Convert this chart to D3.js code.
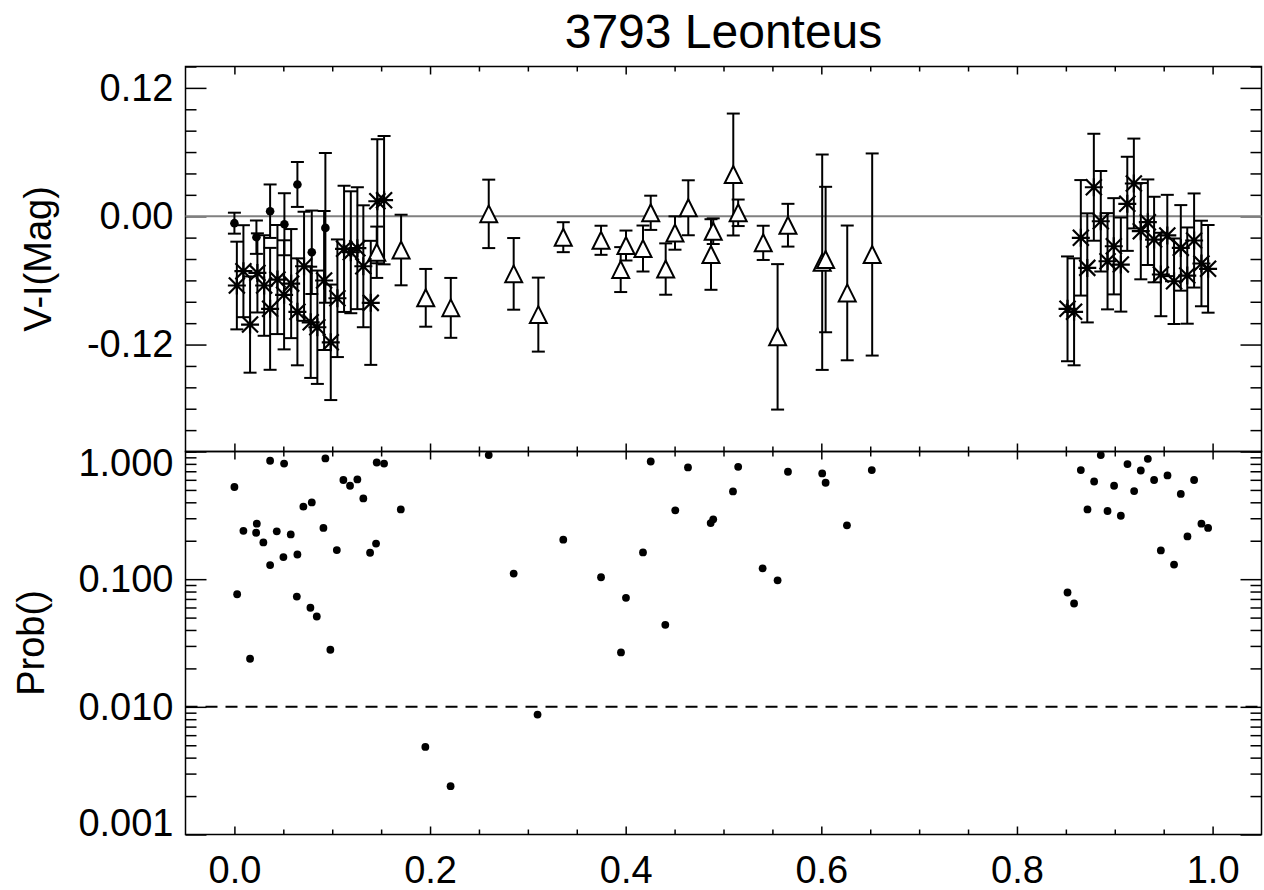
<!DOCTYPE html>
<html>
<head>
<meta charset="utf-8">
<script src="https://cdn.jsdelivr.net/npm/d3@7"></script>
<style>
  body { margin: 0; background: #fff; }
  svg { display: block; font-family: "Liberation Sans", Arial, sans-serif; }
</style>
</head>
<body>
<svg id="chart" width="1264" height="890"></svg>
<script>
// [phase, V-I, error]
const filledPts = [
  [0.000, -0.0065, 0.0098], [0.0225, -0.0196, 0.0156], [0.0365, 0.0047, 0.025],
  [0.0511, -0.0075, 0.029], [0.0644, 0.0297, 0.021], [0.0791, -0.0337, 0.039],
  [0.093, -0.0109, 0.070]
];

const starPts = [
  [0.0025, -0.0648, 0.041], [0.0092, -0.0514, 0.043], [0.016, -0.1013, 0.045],
  [0.0235, -0.053, 0.037], [0.0304, -0.0648, 0.047], [0.0365, -0.0866, 0.057],
  [0.044, -0.0592, 0.051], [0.0508, -0.0735, 0.051], [0.058, -0.063, 0.051],
  [0.0644, -0.0894, 0.050], [0.0712, -0.0468, 0.051], [0.078, -0.0992, 0.052],
  [0.0848, -0.1038, 0.053], [0.0917, -0.0601, 0.065], [0.0985, -0.1179, 0.054],
  [0.1053, -0.0767, 0.055], [0.1121, -0.0305, 0.059], [0.119, -0.0337, 0.057],
  [0.1257, -0.0299, 0.057], [0.1318, -0.0468, 0.057], [0.1394, -0.081, 0.058],
  [0.1461, 0.014, 0.058], [0.153, 0.015, 0.060],
  [0.8517, -0.0866, 0.049], [0.8584, -0.0894, 0.050], [0.8653, -0.0202, 0.054],
  [0.8719, -0.0483, 0.051], [0.8786, 0.0271, 0.050], [0.8857, -0.0047, 0.047],
  [0.8926, -0.0421, 0.045], [0.899, -0.0281, 0.045], [0.9062, -0.0452, 0.044],
  [0.9128, 0.0116, 0.044], [0.9195, 0.0306, 0.042], [0.9266, -0.014, 0.045],
  [0.9338, -0.0056, 0.040], [0.9402, -0.0218, 0.040], [0.9471, -0.0545, 0.039],
  [0.9537, -0.018, 0.038], [0.9606, -0.0608, 0.040], [0.9675, -0.0296, 0.040],
  [0.9741, -0.0555, 0.045], [0.9811, -0.0227, 0.044], [0.9886, -0.0442, 0.040],
  [0.9954, -0.0492, 0.041]
];

const trianglePts = [
  [0.1455, -0.0337, 0.024], [0.1704, -0.0316, 0.033], [0.1956, -0.0763, 0.027],
  [0.2212, -0.0857, 0.028], [0.26, 0.0022, 0.032], [0.2855, -0.0539, 0.0335],
  [0.3107, -0.092, 0.0346], [0.3362, -0.0196, 0.014], [0.3748, -0.0225, 0.0136],
  [0.3949, -0.0499, 0.021], [0.4003, -0.0274, 0.014], [0.4177, -0.0302, 0.0215],
  [0.4256, 0.0032, 0.016], [0.4409, -0.0494, 0.024], [0.4504, -0.0157, 0.0156],
  [0.464, 0.0079, 0.0257], [0.4872, -0.0358, 0.033], [0.4895, -0.014, 0.012],
  [0.51, 0.039, 0.057], [0.515, 0.0032, 0.0124], [0.5406, -0.0249, 0.016],
  [0.5553, -0.1128, 0.068], [0.5659, -0.0084, 0.020], [0.6009, -0.043, 0.1007],
  [0.6044, -0.0405, 0.068], [0.6265, -0.0717, 0.063], [0.652, -0.0358, 0.0945]
];

// [phase, probability]
const probPts = [
  [0.000, 0.527], [0.0028, 0.0762], [0.0092, 0.239], [0.016, 0.0238], [0.0222, 0.231],
  [0.0229, 0.272], [0.0296, 0.194], [0.0365, 0.846], [0.0365, 0.129], [0.0433, 0.237],
  [0.0501, 0.149], [0.0508, 0.805], [0.0576, 0.224], [0.0638, 0.0731], [0.0644, 0.156],
  [0.0705, 0.370], [0.0777, 0.0597], [0.0791, 0.399], [0.0842, 0.0510], [0.091, 0.252],
  [0.093, 0.882], [0.0981, 0.028], [0.1047, 0.169], [0.1114, 0.598], [0.1182, 0.539],
  [0.1257, 0.604], [0.1318, 0.429], [0.1387, 0.161], [0.1448, 0.19], [0.1455, 0.82],
  [0.153, 0.805], [0.1701, 0.352],
  [0.1952, 0.00485], [0.221, 0.00239], [0.26, 0.937], [0.2855, 0.1106], [0.3099, 0.00869],
  [0.3362, 0.204], [0.3748, 0.1035], [0.3952, 0.0267], [0.4003, 0.0714], [0.4177, 0.162],
  [0.4256, 0.835], [0.4405, 0.0439], [0.4507, 0.346], [0.4637, 0.75], [0.4869, 0.275],
  [0.4895, 0.294], [0.5097, 0.487], [0.515, 0.759], [0.54, 0.1217], [0.5553, 0.098],
  [0.5659, 0.694], [0.6009, 0.673], [0.6044, 0.569], [0.6262, 0.264], [0.6516, 0.715],
  [0.8517, 0.0786], [0.8584, 0.0645], [0.8653, 0.715], [0.8721, 0.352], [0.8789, 0.582],
  [0.8857, 0.937], [0.8926, 0.342], [0.8993, 0.539], [0.9062, 0.314], [0.913, 0.797],
  [0.9198, 0.49], [0.9266, 0.71], [0.9338, 0.877], [0.9402, 0.598], [0.9471, 0.168],
  [0.9539, 0.649], [0.9606, 0.130], [0.9675, 0.465], [0.9743, 0.216], [0.9811, 0.598],
  [0.9886, 0.272], [0.9954, 0.252]
];

const xTicks = [0, 0.2, 0.4, 0.6, 0.8, 1.0];
const topTicks = [-0.12, 0, 0.12];
const probTicks = [0.001, 0.01, 0.1, 1];
const probLimit = 0.01;

const svg = d3.select("#chart");
const left = 185.5, right = 1261.5;
const topY0 = 66.5, midY = 451.5, botY = 834.5;

const x = d3.scaleLinear().domain([-0.05, 1.05]).range([left, right]);
const yTop = d3.scaleLinear().domain([-0.22, 0.14]).range([midY, topY0]);
const yBot = d3.scaleLog().domain([0.001, 1]).range([botY, midY]);

const xMinor = d3.range(0, 1.0001, 0.05).map(v => +v.toFixed(2)).filter(v => !xTicks.includes(v));
const topMinor = d3.range(-0.22, 0.1401, 0.02).map(v => +v.toFixed(2)).filter(v => !topTicks.includes(v));
const probMinor = [];
[0.001, 0.01, 0.1].forEach(d => { for (let k = 2; k <= 9; k++) probMinor.push(d * k); });

const fmt = f => v => d3.format(f)(v).replace("−", "-");

function styleAxis(g) {
  g.select(".domain").remove();
  g.selectAll("line").attr("stroke", "#000").attr("stroke-width", 1.5);
  g.selectAll("text").attr("font-size", 38).attr("fill", "#000")
    .attr("font-family", '"Liberation Sans", Arial, sans-serif');
}

// axes: ticks drawn inward
function addAxis(axisFn, scale, vals, len, tx, ty, tf, pad) {
  const a = axisFn(scale).tickValues(vals).tickSizeInner(-len).tickSizeOuter(0)
    .tickPadding(pad || 0).tickFormat(tf || "");
  return svg.append("g").attr("transform", `translate(${tx},${ty})`).call(a).call(styleAxis);
}

// top panel
addAxis(d3.axisLeft, yTop, topTicks, 21, left, 0, fmt(".2f"), 12);
addAxis(d3.axisLeft, yTop, topMinor, 11, left, 0);
addAxis(d3.axisRight, yTop, topTicks, 21, right, 0);
addAxis(d3.axisRight, yTop, topMinor, 11, right, 0);
addAxis(d3.axisTop, x, xTicks, 8, 0, topY0);
addAxis(d3.axisTop, x, xMinor, 5, 0, topY0);
addAxis(d3.axisBottom, x, xTicks, 8, 0, midY);
addAxis(d3.axisBottom, x, xMinor, 5, 0, midY);

// bottom panel
const probAxis = addAxis(d3.axisLeft, yBot, probTicks, 21, left, 0, fmt(".3f"), 12);
// end labels kept inside the panel
probAxis.selectAll(".tick text").attr("dy", d => d === 1 ? "0.62em" : d === 0.001 ? "0.02em" : "0.32em");
addAxis(d3.axisLeft, yBot, probMinor, 11, left, 0);
addAxis(d3.axisRight, yBot, probTicks, 21, right, 0);
addAxis(d3.axisRight, yBot, probMinor, 11, right, 0);
addAxis(d3.axisTop, x, xTicks, 8, 0, midY);
addAxis(d3.axisTop, x, xMinor, 5, 0, midY);
addAxis(d3.axisBottom, x, xTicks, 8, 0, botY, fmt(".1f"), 22);
addAxis(d3.axisBottom, x, xMinor, 5, 0, botY);

// frames
[[topY0, midY], [midY, botY]].forEach(([a, b]) => {
  svg.append("rect").attr("x", left).attr("y", a).attr("width", right - left).attr("height", b - a)
    .attr("fill", "none").attr("stroke", "#000").attr("stroke-width", 1.5);
});

// reference lines
svg.append("line").attr("x1", left).attr("x2", right).attr("y1", yTop(0)).attr("y2", yTop(0))
  .attr("stroke", "#808080").attr("stroke-width", 2);
svg.append("line").attr("x1", left).attr("x2", right).attr("y1", yBot(probLimit)).attr("y2", yBot(probLimit))
  .attr("stroke", "#000").attr("stroke-width", 2).attr("stroke-dasharray", "12,8");

// error bars
const gErr = svg.append("g").attr("stroke", "#000").attr("stroke-width", 2).attr("fill", "none");
const allPts = filledPts.concat(starPts, trianglePts);
allPts.forEach(d => {
  const cx = x(d[0]), y1 = yTop(d[1] + d[2]), y2 = yTop(d[1] - d[2]);
  gErr.append("line").attr("x1", cx).attr("x2", cx).attr("y1", y1).attr("y2", y2);
  gErr.append("line").attr("x1", cx - 6.5).attr("x2", cx + 6.5).attr("y1", y1).attr("y2", y1);
  gErr.append("line").attr("x1", cx - 6.5).attr("x2", cx + 6.5).attr("y1", y2).attr("y2", y2);
});

// symbols
svg.append("g").selectAll("circle").data(filledPts).enter().append("circle")
  .attr("cx", d => x(d[0])).attr("cy", d => yTop(d[1])).attr("r", 4.3).attr("fill", "#000");

svg.append("g").selectAll("path").data(trianglePts).enter().append("path")
  .attr("d", d => {
    const cx = x(d[0]), cy = yTop(d[1]);
    return `M${cx - 8.5},${cy + 8.5}L${cx},${cy - 8.5}L${cx + 8.5},${cy + 8.5}Z`;
  })
  .attr("fill", "#fff").attr("stroke", "#000").attr("stroke-width", 2);

svg.append("g").selectAll("path").data(starPts).enter().append("path")
  .attr("d", d => {
    const cx = x(d[0]), cy = yTop(d[1]);
    return `M${cx - 9},${cy}L${cx + 9},${cy}M${cx},${cy - 9}L${cx},${cy + 9}` +
      `M${cx - 8},${cy - 8}L${cx + 8},${cy + 8}M${cx - 8},${cy + 8}L${cx + 8},${cy - 8}`;
  })
  .attr("stroke", "#000").attr("stroke-width", 2.2);

svg.append("g").selectAll("circle").data(probPts).enter().append("circle")
  .attr("cx", d => x(d[0])).attr("cy", d => yBot(d[1])).attr("r", 3.9).attr("fill", "#000");

// titles
svg.append("text").attr("x", (left + right) / 2).attr("y", 48).attr("text-anchor", "middle")
  .attr("font-size", 48).text("3793 Leonteus");
svg.append("text").attr("transform", `translate(51,${(topY0 + midY) / 2}) rotate(-90)`)
  .attr("text-anchor", "middle").attr("font-size", 38).text("V-I(Mag)");
svg.append("text").attr("transform", `translate(44,${(midY + botY) / 2}) rotate(-90)`)
  .attr("text-anchor", "middle").attr("font-size", 38).text("Prob()");
</script>
</body>
</html>
